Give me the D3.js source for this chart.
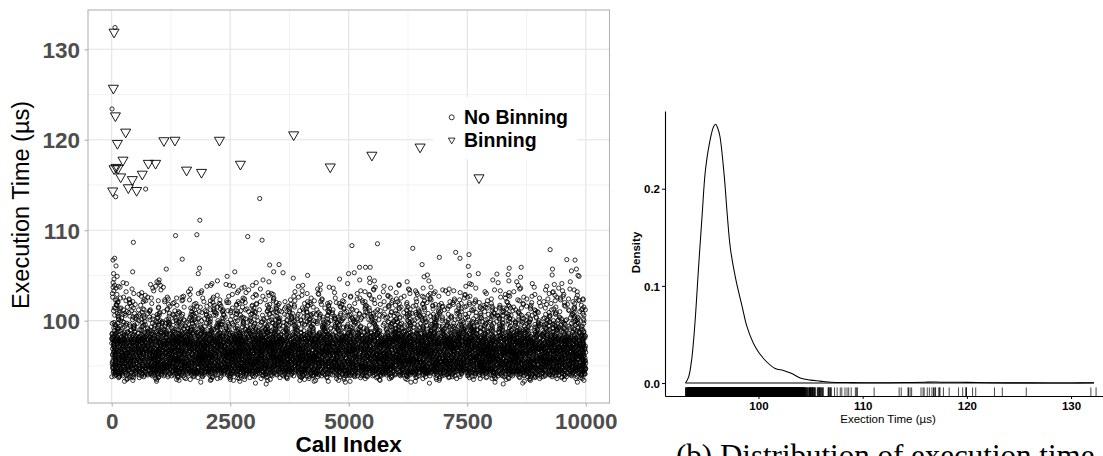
<!DOCTYPE html>
<html><head><meta charset="utf-8">
<script src="https://cdn.jsdelivr.net/npm/d3@7"></script>
<style>body{margin:0;background:#fff;} svg{display:block;}</style>
</head><body>
<svg id="c" width="1103" height="456"></svg>
<script>
// ---------------- data ----------------
const xTicks = [0, 2500, 5000, 7500, 10000];
const xMinorTicks = [1250, 3750, 6250, 8750];
const yTicks = [100, 110, 120, 130];
const yMinorTicks = [95, 105, 115, 125];
const densXTicks = [100, 110, 120, 130];
const densYTicks = [0, 0.1, 0.2];
const seriesNames = ["No Binning", "Binning"];
const totalCalls = 10000;

// No Binning, bulk of the cloud: number of calls at each 0.1 µs execution-time level (93.0 … 104.5 µs)
const levelBase = 93.0, levelStep = 0.1;
const levelCounts = [2,3,5,8,12,17,24,33,44,58, 72,86,100,112,
  120,120,120,120,120,120,120,120,120,120,120,120,120,120,120,120,120,120,
  120,120,120,120,120,120,120,120,120,120,120,120,120,120,120,120,120,120,
  115,108,100,92,85,78,72,67,62,58, 58,55,52,50,48,46,44,43,42,41, 40,39,39,
  38,37,36,35,34,33,32, 31,30,29,28,27,26,25,24,23,22, 21,20,19,18,17,16,15,14,13,12,
  12,11,10,10,9,9,8,8,7,7, 6,6,5,5,4,4];
// spacing between successive calls at a level: one character per call, gap = rank of the character in gapOrder + 1
const gapOrder = "3QmAxL8TfRzk0WbGoNv5JeYs2ChIuD7KpEgr1UaBnHd9OyScw4VjZtM6FqXiPl";
const gapCode = [
"q7Fk2ZpL9xRb4TmW1cYh8NvG3sJd6QaU0eKo5yHi7BrX2gMt9PwC4nEl1SfV","8jDz3OuA6RkI0xNq5LcT2bWg7YmF9sHe1PvK4oGa8ZtJ3dUr6QiB0wMn5XlC",
"h2EyS7pV4fO9kR1aZ6gN3uL8cW0tJ5mX2qD7bI4vH9sF1nK6eY3rA8jP0oGz","5TxB2lQ9wU6dM3iC8hV1yE4kS7nZ0aR5gL2pJ9tF6cO3uX8mW1bK4qD7sH0e",
"N3vG6jT9rA2fY5lP8oI1wM4cE7hB0zU3kQ6xS9dL2nV5gR8tC1aJ4pO7yF0m","k9Zb4Hs1Xe6Wq3Cr8Dn5Ui2Fo7Lt0Mg4Pa9Jy6Kd1Sv3Eh8Bc5Rx2Tl7Ow0N",
"2gQ8yL5aD1nJ7uT4cW0hR6mE3kZ9sF2bO5vI8pX1tG4jM7dA0qU6eK3rH9lC5","Yf7Kw2Rn5Ez0Gi3Ub8Ol6Am1Tc4Vj9Hq2Sx5Pd7Bg0Ns3Le8Cy1Jr6Ma4Ft9",
"x4Q0dW7lB3tN9gS2eJ6oC1yK5rH8aV3mF0iU7pZ4cL9hD2nT6uE1kR5wG8bX3","6sO1jY8fM4zI2vA7qE0lT5cP9nH3gW6dK1uB8rS4xF7aL2mC0tJ5hN9eQ3kV",
"Rb3Lo9Dv6Gy1Sk4Nw7Pe0Jh5Ct8Zm2Fq6Ia3Ux9Ej1Kr4Mz7Ap0Hs5Tg8Wc2","9mC4pH7tA2wK6fR0bN3xI8lE1dV5gU9sO2jY7cM4qT0zF6hL3aP8vG1nX5rJ",
"e8Zq1Wk5Nd3Hy9Bs2Lg6Tc0Pm7Fx4Ja8Rv1Ci5Uo3Ke9Gl2Sw6Ez0Dt4Yb7M","3uF7nR1iX5bD9mQ2sK6gA0yL4pW8cV3hJ7tE1oZ5kS9fC2xM6aU0lH4dG8rN",
"Tk6Ep2Cj9Yv4Oa1Mx7Gd3Rs8Iw5Bh0Zl2Fn6Qu9Lc4Sy1Wt7Hb3Dg8Ne5Vr0","1aI8rB5oW2gT9cY6hM3xK0tF7lQ4nD1eZ8vS5jH2uG9pL6bC3wO0kU7mE4sJ",
"Lh4Ww9Se2Ij7Ba0Fr5Ny3Tq8Ck1Md6Vo4Zt9Gu2Px7Ql0Ec5Ks3Hm8Ab1Ry6","7cX3kM9eP5hV1sJ8yD4bN0wG6qL2tF7iR3oZ9gC5aU1nE8mT4lK0dS6vH2fB",
"Gs0Rt5Ab8Kc3Xn6Ep1Ui9Fh4Ov2Jm7Wd0Ly5Qg3Cz8Hk1Tb6Ma9Sj4Dw2Ir7","4yE9oL2kW7dT0gN5cU8rA3hX6mF1sQ9bJ4vI7pC2tZ0lK5eS8xG3jO6nD1aH",
"Vm8Dq3Hx6Kt1Lb9Ps4Fe7Zw2Rg0Jo5Yc8Sn3Ai6Uk1Cf9Gh4Mv7Tr2Ey0Na5","0fP6bS3xJ9lA4tG7eM1wR5kC8oI2qY6hU0dN4vZ9cL3sE7gT1mB5jW8rF2nK",
"Ci7Ug2Jp5Mb0Ex8Rq3Ws6Hl1Ka9Td4Yn7Fv2Oz5Nj0Bh8Dm3Lc6Sy1Gt9Ar4","8tK2zH6qD9aS1nW5iF3cM7vE0gR4xO8bL2uT6jA9pY1hG5sC3kN7dU0wZ4mI",
"Wd5Sa1Ht8Gx4Kn7Cb0Rj3Pe6Lv9Zi2Fm5Oq8Uy1Ac4Ng7Jw0Er3Mk6Ts9Bl2","5pA9eN3jR7wG1dY6mC0kT4sH8oX2bV5iL9fZ3uQ7gE1cJ6xK0tS4nB8hF2lD",
"Hr2Zc6Ek9Aw3Ni7Gq0Tm4Jb8Oy1Sd5Xl2Vf6Cu9Pg3Mh7Ks0Ft4Lj8Da1Rz5","2wL6dF0xO4iT8nC3gU7pB1eK5rM9yA2sH6jV0qE4cZ8lW3tG7aR1mY5kN9uJ",
"Oe9Gb4Lz1Cs6Hd8Ua3Mk7Rq0Yt5Ej2Wn9Ix4Fp6Bv1Sl3Tg8Kh5Dc0Nm7Pw2","9kV3sJ7bN1hE5zR0lM8dC4qW2yG6tA9oK3fU7iX1cP5gS0nH8mB4rT2wL6eF",
"Fu1Ld7Wm4Pi9Bx2Ks6Ta0Nh3Gr8Ez5Jc1Qv7Yk4Ca9Mo2Sg6Hb0Vt3Rl8Dy5","3bG7fX1mR5uK9aD2pT6hN0iS4wC8lE3yJ7qO1kV5tZ9cM2gA6sF0dW4nH8rL",
"Mz6Ok0Ty5Bd9Iq2Hg7Sl3Cr8Vw1Fa4Ne9Ju6Ls0Dp3Ws7Kt1Ex5Gm8Rh2Ac4","6nS0hA4tL8cY2mF5kW9bE3rI7xD1gQ6sN0vJ4pU8aG2lT5eC9oK3zR7iH1fM",
"Kq9Aj3Ew8Dl2Ns5Hv0Tb6Mx1Ro7Ck4Gi9Zf3Py6Uc0Ld5Sm2Je8Wa1Bt4Fh7","1rD5vM8gC2kH6xT0aW9nJ3sF7eQ1pY4lB8iR5uA0hN6cK2tG9mZ3dS7oE1wL",
"Po4Xg8Kd1Rm6Cy3Jt9Hs2Aw5Eb0Nl7Ui4Sq8Fc1Zv6Mk3Th0Dr9Ba5Gn2Ly7","4hW8aK1sE6dR0mU3tC7pN9xG2iL5bO8fV1jY4qS7cT0kZ6nA3gJ9rF2eM5wH",
"Ez3Sj7Dc0Lw5Bu8Tn2Hk6Ap9Rg1Mo4Yt7Fi0Kv3Cx8Nb5Ql2Ud9Ge6Js1Wa4","0iZ4nF8rA2hL6wS9cE1oJ5gT3xM7bK0uD4pY8sR2lG6eC9tV3mQ7aN1kH5fW",
"Lc8Wh2Fs5Zp9Ga1Dk6Rv3Ux0Om7Jn4Tb8Eq2Hy5Si9Cl3Mt6Ad0Kg4Pw7Nr1","7aT1eJ5kW9lC3nG7hS0rM4bY8dF2xO6tU0iK5qE9pB3gL7sH1cZ4mR8vA2jN",
"Bv5Np9Ir3Tg7Hc0Wm4Ez1Ks8Ll2Qa6Fd9Xo3Jb7Sy0Cu5Ge8Mh2Dt6Rk1Aw4","5dH9oC3vN7fU1kE6aQ0lX4sG8tJ2wB5gR9cM3iL7nZ1eT6pD0yK4hS8rA2mF",
"Sg1Ym6Cx3Kb8Pj0Ho5Ve9Ra2Lt7Dz4Nu1Fi6Wk3Ec8Aq0Ms5Jh9Tl2Gd7Bn4","3lR7cA1pK5xE9hM2tW6gJ0nD4sV8oF3bT7kY1eU5iQ9aC2mL6zH0wS4dN8rG",
"Nf4Jx8Dv1Wp6Se3Ag9Mc0Ky5Hr2Lm7Bt4Zo1Qi8Ud3Gn6Ek0Rs5Cw9Tj2Fb7","8xM2gD6bS0kL4rA9eH3nU7wF1tC5iY8pJ2oN6hZ0qE4lW9cT3sG7aR1vK5dB",
"Dk7Ty2Mg5Hq0Ac8Ln3Wr6Bz1Fe4Jo9Ux2Si7Cp5Rv0Nd3Yh8Gb6Ka1Ql4Ew9","2nE6sL0hK4cR8mW3aT7gF1xD5oJ9bU2kN6tS0fG4iA8pM3yC7eH1lZ5qV9rB",
"Ia0Qu4Ej9Sh3Cw7Nf1Ko5Td8Bm2Xs6Gz0Lr4Pv9Dy3Hg7Mc1Wt5Ab8Rk2Fn6","6gY1tB5kM9dH3sE7wL0aR4nC8iF2xU6oJ1hT5pK9bG3mS7eD0lW4cZ8rA2vN",
"Ul3Ga8Rd2Nx6Ek0Ht5Cm9Ws1Jf4Pb7Ly3Si8Zq0Mv6Tc2Fo5Dg9Kh1Aj4Br7","9eQ3hC7mT1kW5sA0gL8rN2xF6dJ4bY9oU3tH7iS1nG5cE0pM8wK2lD6aZ4vR",
"Wb2Rm6Ko9Ft3Dj7Ax1Sc5Hl0Ng8Yu4Cv2Le6Tq9Ei3Pd7Mw1Gs5Jk0Bh4Uz8","4sK8wF2lA6tN0eR4hG9cM3oD7xJ1bS5kV9gT2iE6pH0nC4rL8aY3mW7dU1fQ",
"Cq5Lw0Hb4Pk8Sx2Gf6Tn9Ea3Rj7Md1Yo5Uv0Ki4Bc8Ft2Zl6Ns9Wg3Ah7Dm1","1yT5cH9nE3kA7rS1gM5wD0lF4xJ8bO2tU6iK0pG3sC7eV1mR5hZ9aN4dW8qL",
"Hw8Ci3Ne7Sp1Ly5Gt0Kb4Rz9Da2Fm6Jq0Ux3Ao8Mk2Ts6Eh1Wg5Bd9Pn4Vc7","7dA0jR4mG8sL2cT6eK1wN5hB9xF3pU7aI0kD4tS8nQ2gC6rM0lY5bH9oE3vZ",
"Zs3Bf7Mx1Ht5Ag9Kc2Rn6Ew0Pl4Dy8Jv2Si6Uo0Ge4Lk8Cb3Tq7Nh1Wa5"
].join("");
// No Binning: individually read outliers
const outlierCalls = [70,7,84,716,1859,3122,457,1347,1796,2869,3172,27,63,91,1488,442,1151,2596,3332,1852,
  1825,3416,3614,3530,5067,5606,6350,6911,7256,7536,7346,9248,9599,9773,6547,5227,5354,5452,4996,5116,
  4132,7732,7521,8384,8637,8364,8125,9297,9697,9802,9837,6658,6589,5438,4806,7543,8624,9290,9858,2435,
  49,40,115,3830,30,60,90,45,110,20,75,130,100,55,15,140];
const outlierTimes = [132.4,123.4,113.7,114.55,111.1,113.5,108.66,109.4,109.5,109.3,108.9,106.7,106.9,106.05,106.8,105.4,105.7,105.4,106.15,105.8,
  105.2,105.4,105.3,106.2,108.3,108.5,108.0,107.0,107.55,107.3,106.9,107.85,106.75,106.7,106.2,105.9,105.9,105.9,105.2,105.3,
  105.0,105.2,106.0,105.8,105.9,105.1,105.15,105.7,105.5,105.7,105.0,105.05,104.85,104.7,104.6,105.0,104.8,105.05,104.9,104.9,
  104.6,105.2,104.9,104.7,104.2,103.9,103.6,103.3,102.9,102.6,102.3,102.0,101.7,101.4,103.0,103.8];
// Binning
const binCalls = [49,35,78,295,120,238,49,91,133,189,435,351,526,21,645,772,926,1101,1333,1579,1894,2273,2715,3838,4610,5488,6505,7747];
const binTimes = [131.9,125.7,122.65,120.85,119.6,117.75,116.8,116.95,116.85,115.9,115.6,114.7,114.4,114.35,116.2,117.4,117.4,119.9,119.95,116.65,116.4,119.95,117.3,120.55,117.0,118.3,119.2,115.8];
// density curve
const densX = [93.0,93.3,93.6,93.9,94.25,94.6,94.9,95.3,95.7,95.9,96.1,96.3,96.7,97.0,97.3,97.8,98.45,98.9,99.7,100.5,101.6,102.4,103.2,104.0,105.0,105.9,107.0,108.5,110,112,114,116,117,118,120,122,124,126,128,130,132.2];
const densY = [0,0.0064,0.025,0.061,0.119,0.174,0.218,0.247,0.264,0.2663,0.262,0.254,0.215,0.174,0.139,0.108,0.078,0.058,0.037,0.025,0.015,0.013,0.0098,0.0053,0.003,0.002,0.0008,0.0005,0.0003,0.0003,0.0005,0.0009,0.001,0.0008,0.0007,0.0003,0.0002,0.0002,0.0001,0.0001,0.0003];

// ---------------- build tables ----------------
const noBin = [];
let pos = 0;
levelCounts.forEach((n, li) => {
  const gaps = [];
  for (let j = 0; j < n; j++) { gaps.push(gapOrder.indexOf(gapCode[pos % gapCode.length]) + 1); pos++; }
  const S = d3.sum(gaps);
  let acc = 0;
  const t = +(levelBase + levelStep * li).toFixed(1);
  gaps.forEach(g => { acc += g; noBin.push({ call: Math.round(totalCalls * (acc - g / 2) / S), time: t }); });
});
outlierCalls.forEach((c, i) => noBin.push({ call: c, time: outlierTimes[i] }));
noBin.sort((a, b) => a.call - b.call);
const bin = binCalls.map((c, i) => ({ call: c, time: binTimes[i] }));
const allTimes = noBin.map(d => d.time).concat(binTimes);

const svg = d3.select("#c");
svg.append("rect").attr("width", 1103).attr("height", 456).attr("fill", "#fff");
const SANS = "'Liberation Sans', Arial, Helvetica, sans-serif";

// ---------------- left: scatter ----------------
const L = { l: 88, r: 609.5, t: 10, b: 403 };
const xS = d3.scaleLinear().domain([-500, 10500]).range([L.l, L.r]);
const yS = d3.scaleLinear().domain([90.9, 134.34]).range([L.b, L.t]);

const grid = svg.append("g");
grid.selectAll(".vmin").data(xMinorTicks).join("line")
  .attr("x1", d => xS(d)).attr("x2", d => xS(d)).attr("y1", L.t).attr("y2", L.b)
  .attr("stroke", "#ebebeb").attr("stroke-width", 0.6);
grid.selectAll(".hmin").data(yMinorTicks).join("line")
  .attr("y1", d => yS(d)).attr("y2", d => yS(d)).attr("x1", L.l).attr("x2", L.r)
  .attr("stroke", "#ebebeb").attr("stroke-width", 0.6);
grid.selectAll(".vmaj").data(xTicks).join("line")
  .attr("x1", d => xS(d)).attr("x2", d => xS(d)).attr("y1", L.t).attr("y2", L.b)
  .attr("stroke", "#e3e3e3").attr("stroke-width", 1.1);
grid.selectAll(".hmaj").data(yTicks).join("line")
  .attr("y1", d => yS(d)).attr("y2", d => yS(d)).attr("x1", L.l).attr("x2", L.r)
  .attr("stroke", "#e3e3e3").attr("stroke-width", 1.1);

svg.append("g").selectAll("circle").data(noBin).join("circle")
  .attr("cx", d => xS(d.call)).attr("cy", d => yS(d.time)).attr("r", 2.1)
  .attr("fill", "none").attr("stroke", "#000").attr("stroke-opacity", 0.8).attr("stroke-width", 1.0);

const tri = d3.symbol(d3.symbolTriangle, 44);
svg.append("g").selectAll("path").data(bin).join("path")
  .attr("d", tri)
  .attr("transform", d => `translate(${xS(d.call)},${yS(d.time)}) rotate(180)`)
  .attr("fill", "none").attr("stroke", "#000").attr("stroke-width", 0.9);

svg.append("rect").attr("x", L.l).attr("y", L.t).attr("width", L.r - L.l).attr("height", L.b - L.t)
  .attr("fill", "none").attr("stroke", "#b3b3b3").attr("stroke-width", 1.1);

const gx = svg.append("g").attr("transform", `translate(0,${L.b})`)
  .call(d3.axisBottom(xS).tickValues(xTicks).tickSize(3.5).tickFormat(d3.format("d")));
gx.select(".domain").remove();
gx.selectAll("line").attr("stroke", "#b3b3b3").attr("stroke-width", 1.1);
gx.selectAll("text").attr("y", 26).attr("dy", 0)
  .attr("font-family", SANS).attr("font-weight", "bold").attr("font-size", 22.5).attr("fill", "#4d4d4d");

const gy = svg.append("g").attr("transform", `translate(${L.l},0)`)
  .call(d3.axisLeft(yS).tickValues(yTicks).tickSize(3.5).tickPadding(4.5));
gy.select(".domain").remove();
gy.selectAll("line").attr("stroke", "#b3b3b3").attr("stroke-width", 1.1);
gy.selectAll("text").attr("dy", "0.36em")
  .attr("font-family", SANS).attr("font-weight", "bold").attr("font-size", 22.5).attr("fill", "#4d4d4d");

svg.append("text").attr("x", (L.l + L.r) / 2).attr("y", 452).attr("text-anchor", "middle")
  .attr("font-family", SANS).attr("font-weight", "bold").attr("font-size", 22.5).attr("fill", "#000")
  .text("Call Index");
svg.append("text").attr("transform", "translate(28.5,205) rotate(-90)").attr("text-anchor", "middle")
  .attr("font-family", SANS).attr("font-size", 23.5).attr("fill", "#000")
  .text("Execution Time (µs)");

// legend
const lg = svg.append("g");
lg.append("rect").attr("x", 433).attr("y", 97).attr("width", 144).attr("height", 62).attr("fill", "#fff");
lg.append("circle").attr("cx", 451.7).attr("cy", 117.3).attr("r", 2.5)
  .attr("fill", "none").attr("stroke", "#000").attr("stroke-width", 0.8);
lg.append("path").attr("d", d3.symbol(d3.symbolTriangle, 19)).attr("transform", "translate(451.7,140) rotate(180)")
  .attr("fill", "none").attr("stroke", "#000").attr("stroke-width", 0.8);
lg.selectAll("text").data(seriesNames).join("text")
  .attr("x", 464).attr("y", (d, i) => 124 + i * 23)
  .attr("font-family", SANS).attr("font-weight", "bold").attr("font-size", 19.5).attr("fill", "#000")
  .text(d => d);

// ---------------- right: density ----------------
const R = { l: 665, t: 111, b: 396 };
const xD = d3.scaleLinear().domain([91.03, 134.27]).range([R.l, R.l + 43.24 * 10.42]);
const yD = d3.scaleLinear().domain([-0.01333, 0.28]).range([R.b, R.t]);

svg.append("g").selectAll("line").data(allTimes).join("line")
  .attr("x1", d => xD(d)).attr("x2", d => xD(d)).attr("y1", R.b - 8.6).attr("y2", R.b)
  .attr("stroke", "#000").attr("stroke-width", 0.9).attr("stroke-opacity", 0.8);

const dens = densX.map((x, i) => [x, densY[i]]);
svg.append("path").datum(dens)
  .attr("d", d3.line().x(d => xD(d[0])).y(d => yD(d[1])).curve(d3.curveCatmullRom.alpha(0.5)))
  .attr("fill", "none").attr("stroke", "#000").attr("stroke-width", 1.05);
svg.append("line").attr("x1", xD(densX[0])).attr("x2", xD(densX[densX.length - 1]))
  .attr("y1", yD(0)).attr("y2", yD(0)).attr("stroke", "#000").attr("stroke-width", 1.05);

const dx = svg.append("g").attr("transform", `translate(0,${R.b})`)
  .call(d3.axisBottom(xD).tickValues(densXTicks).tickSize(3).tickSizeOuter(0));
dx.select(".domain").attr("stroke", "#000").attr("stroke-width", 1.1);
dx.selectAll(".tick line").attr("stroke", "#000");
dx.selectAll("text").attr("y", 14).attr("dy", 0)
  .attr("font-family", SANS).attr("font-weight", "bold").attr("font-size", 11.5).attr("fill", "#000");

const dy = svg.append("g").attr("transform", `translate(${R.l},0)`)
  .call(d3.axisLeft(yD).tickValues(densYTicks).tickSize(3).tickPadding(2).tickSizeOuter(0).tickFormat(d3.format(".1f")));
dy.select(".domain").attr("stroke", "#000").attr("stroke-width", 1.1);
dy.selectAll(".tick line").attr("stroke", "#000");
dy.selectAll("text").attr("dy", "0.36em")
  .attr("font-family", SANS).attr("font-weight", "bold").attr("font-size", 11.5).attr("fill", "#000");

svg.append("text").attr("x", 888).attr("y", 422.5).attr("text-anchor", "middle")
  .attr("font-family", SANS).attr("font-size", 11.5).attr("fill", "#000")
  .text("Exection Time (µs)");
svg.append("text").attr("transform", "translate(640,252.5) rotate(-90)").attr("text-anchor", "middle")
  .attr("font-family", SANS).attr("font-weight", "bold").attr("font-size", 11.5).attr("fill", "#000")
  .text("Density");

// caption (partly cut off at the bottom edge, as in the source figure)
svg.append("text").attr("x", 676).attr("y", 466)
  .attr("font-family", "'Liberation Serif', 'Times New Roman', serif").attr("font-size", 31).attr("fill", "#000")
  .text("(b) Distribution of execution time");
</script>
</body></html>
